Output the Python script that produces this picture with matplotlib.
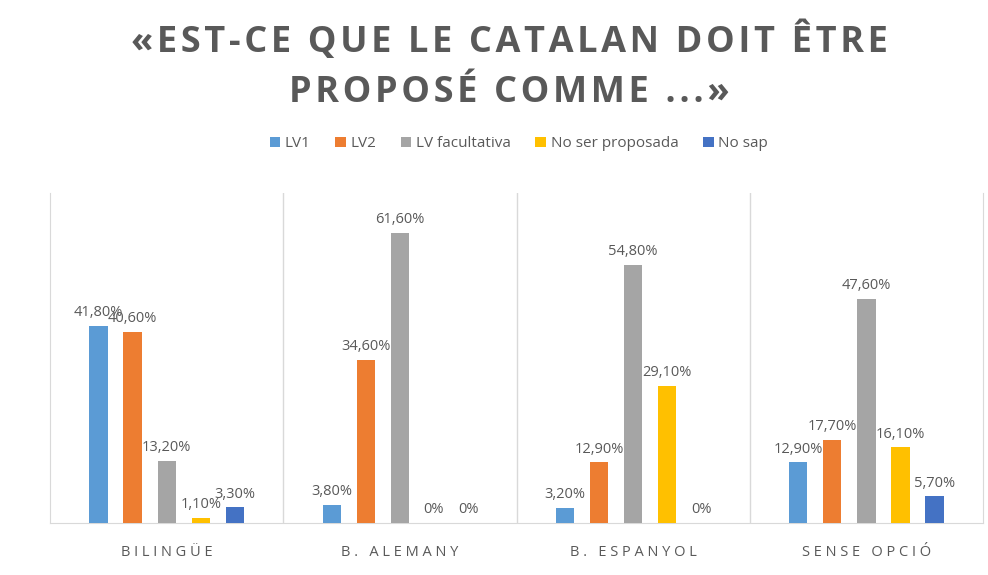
import matplotlib.pyplot as plt
import numpy as np

categories = ["BILINGÜE", "B. ALEMANY", "B. ESPANYOL", "SENSE OPCIÓ"]
series = ["LV1", "LV2", "LV facultativa", "No ser proposada", "No sap"]
lv1 = [41.8, 3.8, 3.2, 12.9]
lv2 = [40.6, 34.6, 12.9, 17.7]
lv_fac = [13.2, 61.6, 54.8, 47.6]
no_prop = [1.1, 0.0, 29.1, 16.1]
no_sap = [3.3, 0.0, 0.0, 5.7]
values = [lv1, lv2, lv_fac, no_prop, no_sap]
colors = ["#5B9BD5", "#ED7D31", "#A5A5A5", "#FFC000", "#4472C4"]
title_lines = ["«EST-CE QUE LE CATALAN DOIT ÊTRE", "PROPOSÉ COMME ...»"]

txt = "#595959"
fam = ["Open Sans", "DejaVu Sans"]


def fmt(v):
    if v == 0:
        return "0%"
    return f"{v:.2f}".replace(".", ",") + "%"


def spaced(s, sep=" "):
    return sep.join(s)


fig = plt.figure(figsize=(9.88, 5.75), dpi=100)
ax = fig.add_axes([0.0506, 0.0904, 0.9444, 0.5736])

x = np.arange(len(categories))
step = 0.146
width = 0.078
for i, (name, vals, c) in enumerate(zip(series, values, colors)):
    pos = x + (i - 2) * step
    ax.bar(pos, vals, width, color=c, label=name, zorder=3)
    for p, v in zip(pos, vals):
        ax.text(p, v + 1.2, fmt(v), ha="center", va="bottom",
                fontsize=10.5, color=txt, family=fam)

ax.set_xlim(-0.5, len(categories) - 0.5)
ax.set_ylim(0, 70)
ax.set_yticks([])
ax.set_xticks(x)
ax.set_xticklabels([spaced(c) for c in categories], fontsize=10.5, color=txt,
                   family=fam)
ax.tick_params(axis="x", length=0, pad=16)
for b in np.arange(0.5, len(categories) - 0.5):
    ax.axvline(b, color="#D9D9D9", lw=1, zorder=1)
ax.spines["top"].set_visible(False)
for s in ["left", "right", "bottom"]:
    ax.spines[s].set_color("#D9D9D9")

fig.text(0.516, 0.928, spaced(title_lines[0], "\u200a"), ha="center",
         va="center", fontsize=26, fontweight="bold", color=txt, family=fam)
fig.text(0.516, 0.838, spaced(title_lines[1], "\u200a"), ha="center",
         va="center", fontsize=26, fontweight="bold", color=txt, family=fam)

fig.legend(loc="center", bbox_to_anchor=(0.525, 0.75), ncol=5, frameon=False,
           handlelength=0.7, handleheight=0.7, handletextpad=0.3,
           columnspacing=1.6, prop={"family": fam, "size": 11},
           labelcolor=txt)

fig.savefig("out.png", dpi=100)
